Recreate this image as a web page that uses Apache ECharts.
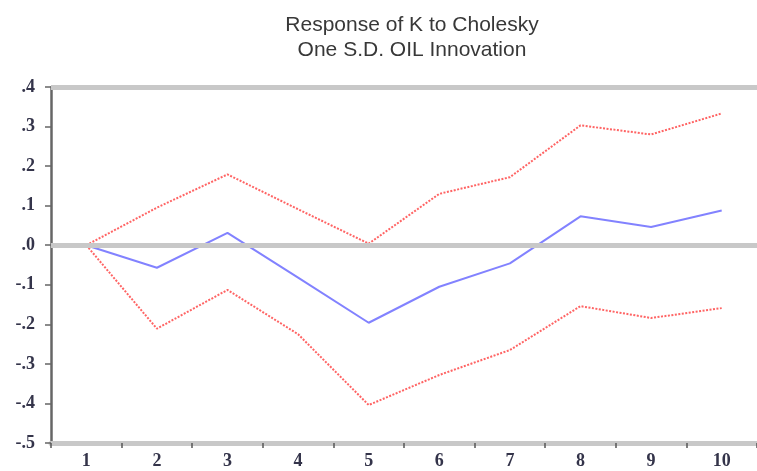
<!DOCTYPE html>
<html>
<head>
<meta charset="utf-8">
<script src="https://cdn.jsdelivr.net/npm/echarts@6/dist/echarts.min.js"></script>
<style>
  html, body { margin: 0; padding: 0; background: #ffffff; }
  #chart { width: 757px; height: 471px; }
</style>
</head>
<body>
<div id="chart"></div>
<script>
// Impulse response of K to a one S.D. OIL shock, with ±2 S.E. bands
const periods = ['1', '2', '3', '4', '5', '6', '7', '8', '9', '10'];
const response = [0, -0.057, 0.031, -0.082, -0.196, -0.105, -0.046, 0.073, 0.046, 0.088];
const upperBand = [0, 0.095, 0.179, 0.091, 0.004, 0.13, 0.172, 0.303, 0.28, 0.333];
const lowerBand = [0, -0.211, -0.113, -0.225, -0.404, -0.328, -0.265, -0.154, -0.184, -0.159];
const refLevels = [0, 0.4];
const titleLines = ['Response of K to Cholesky', 'One S.D. OIL Innovation'];

const labelFont = {
  fontFamily: 'Liberation Serif',
  fontWeight: 'bold',
  fontSize: 18,
  color: '#34344a'
};

function fmtTick(v) {
  const s = (Math.round(v * 10) / 10).toFixed(1);
  return s.replace(/^(-?)0\./, '$1.');
}

const chart = echarts.init(document.getElementById('chart'), null, { renderer: 'canvas' });

chart.setOption({
  backgroundColor: '#ffffff',
  animation: false,
  title: {
    text: titleLines.join('\n'),
    left: 407,
    textAlign: 'center',
    top: 8,
    textStyle: {
      fontFamily: 'Liberation Sans',
      fontWeight: 'normal',
      fontSize: 21,
      lineHeight: 25,
      color: '#383838'
    }
  },
  grid: { left: 51, top: 87, width: 710, height: 356, containLabel: false },
  xAxis: {
    type: 'category',
    data: periods,
    boundaryGap: true,
    axisLine: { show: true, onZero: false, lineStyle: { color: '#c8c8c8', width: 5 } },
    axisTick: { show: true, interval: 0, length: 5, lineStyle: { color: '#555555', width: 1.5 } },
    axisLabel: Object.assign({ margin: 9, interval: 0 }, labelFont),
    splitLine: { show: false }
  },
  yAxis: {
    type: 'value',
    min: -0.5,
    max: 0.4,
    interval: 0.1,
    axisLine: { show: true, onZero: false, lineStyle: { color: '#666666', width: 2.5 } },
    axisTick: { show: true, length: 6, lineStyle: { color: '#666666', width: 1.5 } },
    axisLabel: Object.assign({ margin: 16, formatter: fmtTick }, labelFont),
    splitLine: { show: false }
  },
  series: [
    {
      name: 'ref',
      type: 'line',
      data: [],
      z: 1,
      silent: true,
      markLine: {
        silent: true,
        symbol: 'none',
        label: { show: false },
        lineStyle: { color: '#c8c8c8', width: 5, type: 'solid' },
        data: refLevels.map(function (v) { return { yAxis: v }; })
      }
    },
    {
      name: 'upper',
      type: 'line',
      data: upperBand,
      z: 3,
      symbol: 'none',
      lineStyle: { color: '#ff6464', width: 2, type: [2, 1.5] }
    },
    {
      name: 'lower',
      type: 'line',
      data: lowerBand,
      z: 3,
      symbol: 'none',
      lineStyle: { color: '#ff6464', width: 2, type: [2, 1.5] }
    },
    {
      name: 'response',
      type: 'line',
      data: response,
      z: 4,
      symbol: 'none',
      lineStyle: { color: '#8282ff', width: 2 }
    }
  ]
});
</script>
</body>
</html>
